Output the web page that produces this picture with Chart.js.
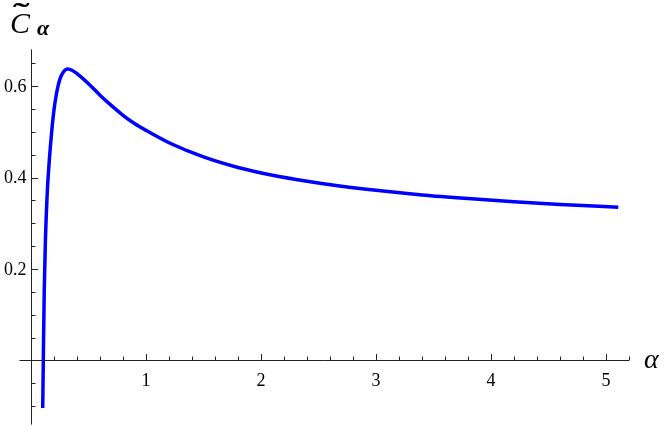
<!DOCTYPE html>
<html lang="en">
<head>
  <meta charset="UTF-8">
  <title>C alpha curve</title>
  <script src="https://cdn.jsdelivr.net/npm/chart.js"></script>
  <style>
    body { margin: 0; background: #fff; }
    #wrap { width: 665px; height: 429px; }
  </style>
</head>
<body>
  <div id="wrap"><canvas id="curveChart"></canvas></div>

  <script>
    // values
    const alphaValues = [0.102, 0.107, 0.115, 0.125, 0.14, 0.16, 0.18, 0.2, 0.225, 0.25, 0.28, 0.32,
      0.36, 0.4, 0.5, 0.6, 0.7, 0.8, 0.9, 1.0, 1.2, 1.5, 1.8, 2.1, 2.4, 2.7, 3.0, 3.4, 3.8, 4.2, 4.6, 5.107];
    const cValues = [-0.104, 0.0, 0.15, 0.26, 0.36, 0.44, 0.5, 0.548, 0.588, 0.614, 0.63, 0.637,
      0.634, 0.627, 0.605, 0.58, 0.557, 0.536, 0.518, 0.503, 0.476, 0.445, 0.422, 0.405, 0.392, 0.381,
      0.372, 0.362, 0.354, 0.347, 0.341, 0.335];

    const xTickValues = [1, 2, 3, 4, 5];
    const xTickLabels = ['1', '2', '3', '4', '5'];
    const yTickValues = [0.2, 0.4, 0.6];
    const yTickLabels = ['0.2', '0.4', '0.6'];

    // Mathematica style axes through the origin, drawn with the chart's own scales
    const originAxes = {
      id: 'originAxes',
      afterDatasetsDraw(chart) {
        const ctx = chart.ctx;
        const xs = chart.scales.x, ys = chart.scales.y;
        const area = chart.chartArea;
        const x0 = Math.round(xs.getPixelForValue(0)) + 0.5;
        const y0 = Math.round(ys.getPixelForValue(0)) + 0.5;
        ctx.save();
        ctx.strokeStyle = '#222';
        ctx.lineWidth = 1;
        ctx.beginPath();
        ctx.moveTo(area.left, y0); ctx.lineTo(area.right, y0);
        ctx.moveTo(x0, area.top); ctx.lineTo(x0, area.bottom);
        // x ticks every 0.2, longer on the integers
        for (let i = 1; i * 0.2 <= xs.max + 1e-9; i++) {
          const px = Math.round(xs.getPixelForValue(i * 0.2)) + 0.5;
          const len = i % 5 === 0 ? 6.5 : 4;
          ctx.moveTo(px, y0); ctx.lineTo(px, y0 - len);
        }
        // y ticks every 0.05, longer on multiples of 0.2
        for (let i = Math.ceil(ys.min / 0.05); i * 0.05 <= ys.max + 1e-9; i++) {
          if (i === 0) continue;
          const py = Math.round(ys.getPixelForValue(i * 0.05)) + 0.5;
          const len = i % 4 === 0 ? 6.5 : 4;
          ctx.moveTo(x0, py); ctx.lineTo(x0 + len, py);
        }
        ctx.stroke();

        ctx.fillStyle = '#000';
        ctx.font = '18px "Liberation Serif"';
        ctx.textAlign = 'center';
        ctx.textBaseline = 'top';
        xTickValues.forEach((v, i) => {
          ctx.fillText(xTickLabels[i], xs.getPixelForValue(v), y0 + 12);
        });
        ctx.textAlign = 'right';
        ctx.textBaseline = 'middle';
        yTickValues.forEach((v, i) => {
          ctx.fillText(yTickLabels[i], x0 - 5, ys.getPixelForValue(v) + 1);
        });

        // axis labels
        ctx.font = 'italic 28px "Liberation Serif"';
        ctx.textAlign = 'left';
        ctx.textBaseline = 'alphabetic';
        ctx.fillText('α', 644, y0 + 7);

        ctx.font = 'italic 30px "Liberation Serif"';
        ctx.fillText('C', 10, 33);
        ctx.save();
        ctx.translate(13, 21);
        ctx.scale(1.9, 1);
        ctx.font = 'bold 26px "Liberation Serif"';
        ctx.fillText('˜', 0, 0);
        ctx.restore();
        ctx.font = 'italic bold 22px "Liberation Serif"';
        ctx.fillText('α', 37, 35);
        ctx.restore();
      }
    };

    const ctx = document.getElementById('curveChart').getContext('2d');
    const curveChart = new Chart(ctx, {
      type: 'line',
      data: {
        labels: alphaValues,
        datasets: [{
          data: alphaValues.map((a, i) => ({ x: a, y: cValues[i] })),
          borderColor: '#0000ff',
          borderWidth: 3.5,
          pointRadius: 0,
          fill: false,
          cubicInterpolationMode: 'monotone'
        }]
      },
      options: {
        responsive: true,
        maintainAspectRatio: false,
        animation: false,
        layout: { padding: { left: 19.5, right: 36, top: 49.4, bottom: 4.45 } },
        plugins: { legend: { display: false }, tooltip: { enabled: false } },
        scales: {
          x: { type: 'linear', min: -0.1, max: 5.2, display: false },
          y: { type: 'linear', min: -0.14, max: 0.68, display: false }
        }
      },
      plugins: [originAxes]
    });
  </script>
</body>
</html>
